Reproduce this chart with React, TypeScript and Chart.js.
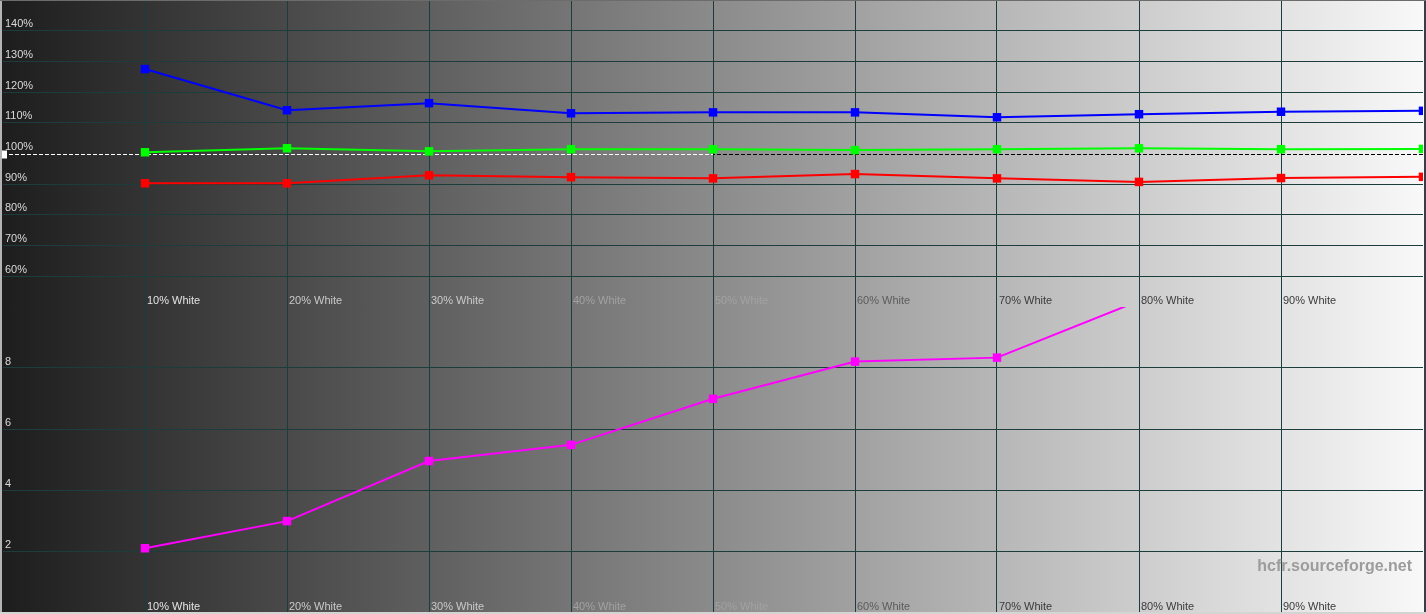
import React, { useEffect, useRef } from 'react';
import { Chart, registerables } from 'chart.js';

Chart.register(...registerables);

// ---- data ----
const levels = [10, 20, 30, 40, 50, 60, 70, 80, 90, 100];
const levelLabels = ['10% White', '20% White', '30% White', '40% White', '50% White', '60% White', '70% White', '80% White', '90% White'];
const redBalance = [90.3, 90.3, 92.9, 92.3, 91.9, 93.3, 91.9, 90.75, 92.0, 92.4];
const greenBalance = [100.4, 101.7, 100.7, 101.4, 101.4, 101.1, 101.4, 101.7, 101.4, 101.5];
const blueBalance = [127.5, 114.1, 116.4, 113.1, 113.4, 113.4, 111.8, 112.8, 113.6, 113.9];
const deltaE = [2.09, 2.98, 4.95, 5.48, 6.99, 8.21, 8.34, 10.2, 10.6, 10.9];
const balanceTicks = [60, 70, 80, 90, 100, 110, 120, 130, 140];
const deltaTicks = [2, 4, 6, 8];
const watermark = 'hcfr.sourceforge.net';

const FONT = '"Liberation Sans", Arial, sans-serif';
const GRID = '#1b3d3d';

function labelColor(level: number): string {
  if (level <= 10) return '#e4e4e4';
  if (level <= 30) return '#cacaca';
  if (level <= 50) return '#a2a2a2';
  if (level <= 60) return '#5c5c5c';
  return '#3a3a3a';
}

function backdropPlugin() {
  return {
    id: 'backdrop',
    beforeDraw(chart: any) {
      const { ctx, width, height } = chart;
      const g = ctx.createLinearGradient(0, 0, width, 0);
      g.addColorStop(0, '#1d1d1d');
      g.addColorStop(1, '#f9f9f9');
      ctx.save();
      ctx.fillStyle = g;
      ctx.fillRect(0, 0, width, height);
      ctx.restore();
    },
  };
}

function labelsPlugin(yTicks: number[], yFmt: (v: number) => string, xOff: number, extra?: (chart: any) => void) {
  return {
    id: 'labels',
    afterDatasetsDraw(chart: any) {
      const { ctx, chartArea, scales } = chart;
      ctx.save();
      ctx.font = `11px ${FONT}`;
      ctx.textBaseline = 'middle';
      ctx.textAlign = 'left';
      ctx.fillStyle = '#dadada';
      yTicks.forEach((t) => {
        ctx.fillText(yFmt(t), 5, scales.y.getPixelForValue(t) - 6.5);
      });
      levelLabels.forEach((lab, i) => {
        ctx.fillStyle = labelColor(levels[i]);
        ctx.fillText(lab, scales.x.getPixelForValue(levels[i]) + 2, chartArea.bottom - xOff);
      });
      if (extra) extra(chart);
      ctx.restore();
    },
  };
}

function framePlugin(isTop: boolean) {
  return {
    id: 'frame',
    afterDraw(chart: any) {
      const { ctx, width, height } = chart;
      ctx.save();
      ctx.fillStyle = '#b4b4b4';
      ctx.fillRect(0, 0, 2, height);
      ctx.fillStyle = '#3a3d48';
      ctx.fillRect(width - 2, 0, 2, height);
      if (isTop) {
        ctx.fillStyle = '#6c6c6c';
        ctx.fillRect(0, 0, width, 1);
      } else {
        ctx.fillStyle = '#d4d4d4';
        ctx.fillRect(0, height - 2, width, 2);
      }
      ctx.restore();
    },
  };
}

const refLinePlugin = {
  id: 'refline',
  beforeDatasetsDraw(chart: any) {
    const { ctx, chartArea, scales, width } = chart;
    const y = Math.round(scales.y.getPixelForValue(100)) + 0.5;
    ctx.save();
    const g = ctx.createLinearGradient(0, 0, width, 0);
    g.addColorStop(0, '#ffffff');
    g.addColorStop(0.5, '#ffffff');
    g.addColorStop(0.5, '#000000');
    g.addColorStop(1, '#000000');
    ctx.strokeStyle = g;
    ctx.lineWidth = 1;
    ctx.setLineDash([4, 2]);
    ctx.beginPath();
    ctx.moveTo(chartArea.left, y);
    ctx.lineTo(chartArea.right, y);
    ctx.stroke();
    ctx.setLineDash([]);
    ctx.fillStyle = '#ffffff';
    ctx.fillRect(2, y - 4, 5, 8);
    ctx.restore();
  },
};

function series(values: number[], color: string) {
  return {
    data: levels.map((x, i) => ({ x, y: values[i] })),
    borderColor: color,
    backgroundColor: color,
    borderWidth: 2,
    pointStyle: 'rect',
    pointRadius: 6,
    pointBorderWidth: 0,
    tension: 0,
  };
}

function baseOptions(yMin: number, yMax: number, step: number, yTicks: number[], hideY: number[], bottomPad: number) {
  return {
    responsive: false,
    animation: false,
    events: [],
    layout: { autoPadding: false, padding: { left: 3, right: 3, top: 0, bottom: bottomPad } },
    plugins: { legend: { display: false }, tooltip: { enabled: false } },
    scales: {
      x: {
        type: 'linear',
        min: 0,
        max: 100,
        ticks: { stepSize: 10, display: false },
        grid: {
          drawTicks: false,
          lineWidth: 1,
          color: (c: any) => (c.tick && (c.tick.value <= 0 || c.tick.value >= 100) ? 'rgba(0,0,0,0)' : GRID),
        },
        border: { display: false },
      },
      y: {
        type: 'linear',
        min: yMin,
        max: yMax,
        ticks: { stepSize: step, display: false },
        grid: {
          drawTicks: false,
          lineWidth: 1,
          color: (c: any) =>
            c.tick && yTicks.includes(c.tick.value) && !hideY.includes(c.tick.value) ? GRID : 'rgba(0,0,0,0)',
        },
        border: { display: false },
      },
    },
  };
}

export default function App() {
  const topRef = useRef<HTMLCanvasElement>(null);
  const botRef = useRef<HTMLCanvasElement>(null);

  useEffect(() => {
    const top = new Chart(topRef.current as HTMLCanvasElement, {
      type: 'line',
      data: {
        datasets: [
          series(redBalance, '#ff0000'),
          series(greenBalance, '#00ff00'),
          series(blueBalance, '#0000ff'),
        ],
      } as any,
      options: baseOptions(50, 150, 10, balanceTicks, [100], 0) as any,
      plugins: [backdropPlugin(), refLinePlugin, labelsPlugin(balanceTicks, (v) => `${v}%`, 6.5), framePlugin(true)],
    });
    const bot = new Chart(botRef.current as HTMLCanvasElement, {
      type: 'line',
      data: { datasets: [series(deltaE, '#ff00ff')] } as any,
      options: baseOptions(0, 10, 2, deltaTicks, [], 2) as any,
      plugins: [
        backdropPlugin(),
        labelsPlugin(deltaTicks, (v) => `${v}`, 5.5, (chart: any) => {
          const { ctx } = chart;
          ctx.font = `bold 16px ${FONT}`;
          ctx.textAlign = 'right';
          ctx.textBaseline = 'alphabetic';
          ctx.fillStyle = '#9c9c9c';
          ctx.fillText(watermark, 1412, 264);
        }),
        framePlugin(false),
      ],
    });
    return () => {
      top.destroy();
      bot.destroy();
    };
  }, []);

  return (
    <div style={{ position: 'absolute', left: 0, top: 0, width: 1426, height: 614, background: '#ffffff' }}>
      <canvas ref={topRef} width={1426} height={307} style={{ display: 'block' }} />
      <canvas ref={botRef} width={1426} height={307} style={{ display: 'block' }} />
    </div>
  );
}
